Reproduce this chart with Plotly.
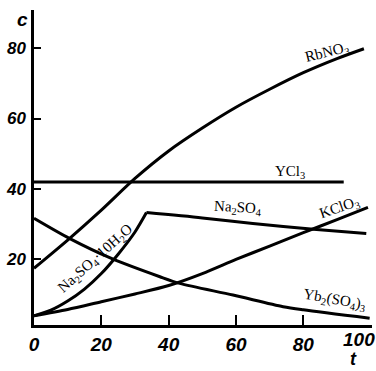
import plotly.graph_objects as go

# Solubility (mass %) versus temperature (deg C)
rb_t = [0, 10, 20, 30, 40, 50, 60, 70, 80, 90, 98]
rb_c = [17.5, 25.5, 34, 43, 50.8, 57.3, 63.2, 68.3, 73, 77, 79.8]

ycl_t = [0, 92]
ycl_c = [42, 42]

na10_t = [0, 5, 10, 15, 20, 25, 30, 33.4]
na10_c = [4, 5.6, 8.2, 11.6, 16, 21.5, 27.8, 33.3]

na_t = [33.4, 50, 65, 83, 98.7]
na_c = [33.3, 31.8, 30.2, 28.6, 27.4]

kclo3_t = [0, 10, 20, 30, 40, 50, 60, 70, 80, 90, 99.2]
kclo3_c = [4, 5.8, 8, 10.2, 12.6, 16, 20, 23.8, 27.6, 31.3, 34.8]

yb_t = [0, 10.5, 23, 37.4, 43.3, 59.1, 74, 80, 99.7]
yb_c = [31.7, 26, 20.3, 15.1, 13.2, 9.9, 6.6, 5.7, 3.3]

x_ticks = [0, 20, 40, 60, 80]
y_ticks = [20, 40, 60, 80]

# Curve labels: text, position, rotation
labels = [
    ("RbNO<sub>3</sub>", 86.9, 78.6, -14),
    ("YCl<sub>3</sub>", 76, 44.9, 0),
    ("Na<sub>2</sub>SO<sub>4</sub>", 60.5, 34.6, 3),
    ("KClO<sub>3</sub>", 90.8, 34.6, -19),
    ("Yb<sub>2</sub>(SO<sub>4</sub>)<sub>3</sub>", 89.3, 8.5, 10),
    ("Na<sub>2</sub>SO<sub>4</sub>·10H<sub>2</sub>O", 18.3, 20.0, -42),
]

fig = go.Figure()
line_style = dict(color="black", width=3, shape="spline", smoothing=0.8)
for t, c in [(rb_t, rb_c), (ycl_t, ycl_c), (na10_t, na10_c),
             (na_t, na_c), (kclo3_t, kclo3_c), (yb_t, yb_c)]:
    fig.add_trace(go.Scatter(x=t, y=c, mode="lines", line=line_style,
                             hoverinfo="skip", showlegend=False))

label_font = dict(family="Liberation Serif", size=15, color="black")
for text, x, y, ang in labels:
    fig.add_annotation(x=x, y=y, text=text, textangle=ang, showarrow=False,
                       font=label_font, xref="x", yref="y")

tick_font_x = dict(family="Liberation Sans Narrow, Liberation Sans", size=19,
                   color="black", style="italic", weight="bold")
tick_font_y = dict(family="Liberation Sans Narrow, Liberation Sans", size=17,
                   color="black", style="italic", weight="bold")

# last x tick label sits left of its tick, at the page edge
fig.add_annotation(x=0.963, y=-0.045, xref="paper", yref="paper", text="100",
                   showarrow=False, xanchor="center", yanchor="middle",
                   font=tick_font_x)

# axis names
fig.add_annotation(x=-0.035, y=0.971, xref="paper", yref="paper", text="c",
                   showarrow=False, xanchor="center", yanchor="middle",
                   font=dict(family="Liberation Sans", size=19, color="black",
                             style="italic", weight="bold"))
fig.add_annotation(x=0.944, y=-0.108, xref="paper", yref="paper", text="t",
                   showarrow=False, xanchor="center", yanchor="middle",
                   font=dict(family="Liberation Sans", size=18, color="black",
                             style="italic", weight="bold"))

fig.update_layout(
    width=376, height=371,
    margin=dict(l=34, r=4, t=10, b=46),
    paper_bgcolor="white", plot_bgcolor="white",
    xaxis=dict(range=[0, 100.4], tickvals=x_ticks,
               ticks="inside", ticklen=10,
               tickwidth=2, tickcolor="black", showline=True, linewidth=2.5,
               linecolor="black", showgrid=False, zeroline=False,
               tickfont=tick_font_x),
    yaxis=dict(range=[1.4, 90.8], tickvals=y_ticks, ticks="inside", ticklen=7,
               tickwidth=2, tickcolor="black", showline=True, linewidth=2.5,
               linecolor="black", showgrid=False, zeroline=False,
               tickfont=tick_font_y, ticklabelstandoff=2),
)

fig.write_html("out.html")
